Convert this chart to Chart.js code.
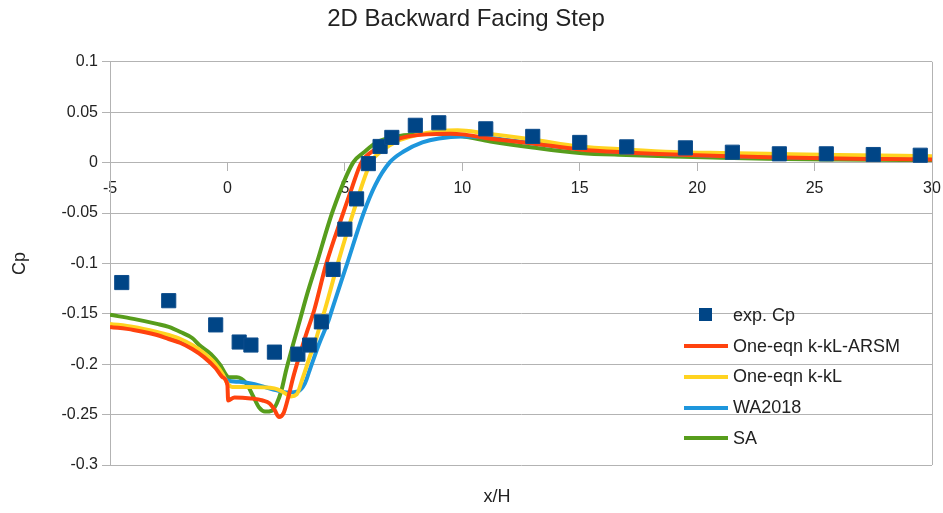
<!DOCTYPE html>
<html>
<head>
<meta charset="utf-8">
<title>2D Backward Facing Step</title>
<script src="https://cdn.jsdelivr.net/npm/chart.js@4/dist/chart.umd.min.js"></script>
<style>
  html, body { margin: 0; padding: 0; background: #fff; }
  #wrap { position: relative; width: 943px; height: 513px; }
  #legend {
    position: absolute; left: 684px; top: 300px;
    font: 18px 'Liberation Sans', Arial, sans-serif; color: #222;
  }
  .item { display: flex; align-items: center; height: 30.75px; white-space: nowrap; }
  .sw { width: 44px; height: 30px; position: relative; margin-right: 5px; flex: none; }
  .sw .ln { position: absolute; left: 0; right: 0; top: 13px; height: 4px; }
  .sw .sq { position: absolute; left: 15px; top: 8px; width: 13px; height: 13px; }
</style>
</head>
<body>
<div id="wrap">
  <canvas id="c" width="943" height="513"></canvas>
  <div id="legend"></div>
</div>
<script>
// Experimental pressure coefficient
const expX  = [-4.5, -2.5, -0.5, 0.5, 1.0, 2.0, 3.0, 3.5, 4.0, 4.5, 5.0, 5.5, 6.0, 6.5, 7.0, 8.0, 9.0,
               11, 13, 15, 17, 19.5, 21.5, 23.5, 25.5, 27.5, 29.5];
const expCp = [-0.119, -0.137, -0.161, -0.178, -0.181, -0.188, -0.190, -0.181, -0.158, -0.106, -0.066, -0.036, -0.001, 0.016, 0.025, 0.037, 0.0395,
               0.0335, 0.026, 0.020, 0.0156, 0.0146, 0.0103, 0.0087, 0.0087, 0.008, 0.0073];

// One-eqn k-kL-ARSM
const arsmX  = [-5, -4, -3, -2.5, -2, -1.5, -1, -0.5, -0.2, 0, 0.03, 0.3, 1.0, 1.5, 1.8, 2.0, 2.2, 2.4, 2.6, 2.8,
                3.1, 3.4, 3.7, 4.2, 4.9, 5.3, 5.7, 6.3, 6.9, 7.5, 8.5, 9.5, 10, 11, 13, 15, 17, 19, 21, 23, 26, 28, 30];
const arsmCp = [-0.163, -0.166, -0.171, -0.175, -0.179, -0.185, -0.193, -0.204, -0.213, -0.221, -0.236, -0.233, -0.234, -0.236, -0.239, -0.245, -0.2525, -0.248, -0.232, -0.213,
                -0.189, -0.167, -0.146, -0.101, -0.052, -0.025, 0.0, 0.013, 0.020, 0.025, 0.028, 0.0285, 0.028, 0.0245, 0.019, 0.013, 0.010, 0.008, 0.0065, 0.0053, 0.004, 0.0035, 0.003];

// One-eqn k-kL
const kklX  = [-5, -4, -3, -2.5, -2, -1.5, -1, -0.5, -0.2, 0, 0.2, 1, 2, 2.4, 2.7, 2.95, 3.2, 3.5, 3.8, 4.0,
               4.15, 4.7, 5.35, 6.1, 6.6, 7.2, 8, 9, 9.8, 11, 13, 15, 17, 19, 21, 23, 26, 30];
const kklCp = [-0.160, -0.163, -0.168, -0.171, -0.175, -0.181, -0.189, -0.200, -0.210, -0.219, -0.2225, -0.2225, -0.224, -0.228, -0.232, -0.230, -0.214, -0.193, -0.173, -0.157,
               -0.146, -0.100, -0.050, 0.0, 0.012, 0.021, 0.027, 0.031, 0.032, 0.029, 0.023, 0.016, 0.013, 0.0106, 0.0095, 0.0087, 0.0075, 0.0063];

// WA2018
const waX  = [-5, -4, -3, -2, -1, -0.5, -0.2, 0, 0.5, 1, 1.5, 2.1, 2.6, 3.0, 3.3, 3.5, 3.9, 4.3, 4.45, 5.1,
              5.8, 6.3, 6.9, 7.5, 8.3, 9, 10, 11, 13, 15, 17, 19, 21, 23, 26, 30];
const waCp = [-0.162, -0.165, -0.170, -0.177, -0.191, -0.202, -0.211, -0.216, -0.2175, -0.219, -0.222, -0.226, -0.228, -0.227, -0.219, -0.206, -0.180, -0.157, -0.146, -0.100,
              -0.050, -0.022, 0.0, 0.011, 0.020, 0.024, 0.026, 0.025, 0.019, 0.0135, 0.010, 0.008, 0.0065, 0.0055, 0.0045, 0.0035];

// SA
const saX  = [-5, -4, -3, -2.5, -2, -1.5, -1.2, -0.7, -0.3, -0.1, 0.05, 0.4, 0.8, 1.1, 1.35, 1.6, 1.9, 2.1, 2.3, 2.5,
              2.8, 3.1, 3.4, 3.8, 4.5, 5.35, 5.8, 6.35, 7.2, 8, 9, 10, 11.2, 13, 15, 17, 19, 21, 23, 26, 30];
const saCp = [-0.151, -0.155, -0.160, -0.163, -0.168, -0.174, -0.181, -0.190, -0.201, -0.209, -0.213, -0.213, -0.219, -0.232, -0.243, -0.247, -0.246, -0.239, -0.226, -0.206,
              -0.180, -0.155, -0.130, -0.100, -0.047, 0.0, 0.010, 0.020, 0.026, 0.028, 0.0285, 0.026, 0.021, 0.015, 0.0096, 0.0075, 0.006, 0.0048, 0.0037, 0.003, 0.0025];

// Axis ranges and tick spacing
const xRange = [-5, 30], xStep = 5;
const yRange = [-0.3, 0.1], yStep = 0.05;

const FONT = "'Liberation Sans', Arial, sans-serif";
const TEXT = '#222';
const GRID = '#b3b3b3';

const pts = (xs, ys) => xs.map((x, i) => ({ x: x, y: ys[i] }));

const curve = (label, xs, ys, color, order) => ({
  label, data: pts(xs, ys), borderColor: color, backgroundColor: color,
  borderWidth: 4, pointRadius: 0, cubicInterpolationMode: 'monotone',
  fill: false, order
});

const datasets = [
  { label: 'exp. Cp', data: pts(expX, expCp), showLine: false,
    pointStyle: 'rect', pointRadius: 10, pointBackgroundColor: '#004586',
    pointBorderColor: '#0d4d8c', pointBorderWidth: 1, backgroundColor: '#004586', order: 0 },
  curve('One-eqn k-kL-ARSM', arsmX, arsmCp, '#ff420e', 1),
  curve('One-eqn k-kL', kklX, kklCp, '#ffd320', 2),
  curve('WA2018', waX, waCp, '#1e96dc', 3),
  curve('SA', saX, saCp, '#579d1c', 4)
];

// right frame edge and the bottom axis caption
const frame = {
  id: 'frame',
  beforeDatasetsDraw(chart) {
    const a = chart.chartArea, ctx = chart.ctx;
    ctx.save();
    ctx.strokeStyle = GRID; ctx.lineWidth = 1;
    ctx.beginPath();
    ctx.moveTo(Math.round(a.right) + 0.5, a.top);
    ctx.lineTo(Math.round(a.right) + 0.5, a.bottom);
    ctx.stroke();
    ctx.restore();
  },
  afterDraw(chart) {
    const ctx = chart.ctx;
    ctx.save();
    ctx.fillStyle = TEXT;
    ctx.font = '18px ' + FONT;
    ctx.textAlign = 'center';
    ctx.textBaseline = 'middle';
    ctx.fillText('x/H', 497, 497);
    ctx.restore();
  }
};

const fmt = v => { const r = Math.round(v * 1000) / 1000; return r === 0 ? '0' : String(r); };

new Chart(document.getElementById('c'), {
  type: 'line',
  data: { datasets },
  options: {
    responsive: false, animation: false, devicePixelRatio: 1,
    layout: { padding: { left: 0, right: 11, top: 0, bottom: 48 } },
    plugins: {
      legend: { display: false },
      tooltip: { enabled: false },
      title: {
        display: true, text: '2D Backward Facing Step', color: TEXT,
        font: { family: FONT, size: 24, weight: 'normal' },
        padding: { top: 5, bottom: 28 }
      }
    },
    scales: {
      x: {
        type: 'linear', min: xRange[0], max: xRange[1],
        position: { y: 0 },
        ticks: { stepSize: xStep, color: TEXT, font: { family: FONT, size: 16 }, padding: 8, maxRotation: 0, callback: fmt },
        grid: { drawOnChartArea: false, drawTicks: true, tickLength: 8, color: GRID },
        border: { display: true, color: GRID },
        afterFit(scale) { scale.paddingLeft = 0; scale.paddingRight = 0; }
      },
      y: {
        type: 'linear', min: yRange[0], max: yRange[1],
        ticks: { stepSize: yStep, color: TEXT, font: { family: FONT, size: 16 }, padding: 4, callback: fmt },
        grid: { color: GRID, tickLength: 8 },
        border: { display: true, color: GRID },
        title: { display: true, text: 'Cp', color: TEXT, font: { family: FONT, size: 18 }, padding: { top: 9, bottom: 0 } },
        afterFit(scale) { scale.width = 110; }
      }
    }
  },
  plugins: [frame]
});

// legend built from the dataset list
const legend = document.getElementById('legend');
datasets.forEach(d => {
  const item = document.createElement('div');
  item.className = 'item';
  const sw = document.createElement('div');
  sw.className = 'sw';
  const mark = document.createElement('div');
  if (d.showLine === false) { mark.className = 'sq'; mark.style.background = d.pointBackgroundColor; }
  else { mark.className = 'ln'; mark.style.background = d.borderColor; }
  sw.appendChild(mark);
  const txt = document.createElement('span');
  txt.textContent = d.label;
  item.appendChild(sw);
  item.appendChild(txt);
  legend.appendChild(item);
});
</script>
</body>
</html>
